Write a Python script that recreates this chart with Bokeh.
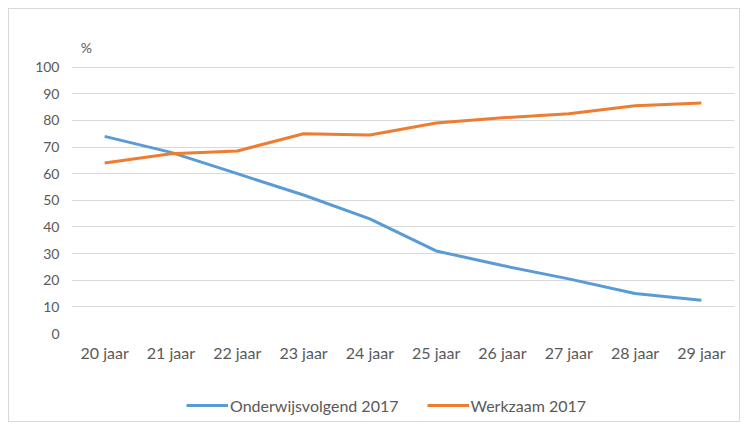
from bokeh.plotting import figure
from bokeh.models import (Legend, LegendItem, FixedTicker, ColumnDataSource,
                          Range1d)
from bokeh.core.properties import value
from bokeh.layouts import column
from bokeh.embed import file_html
from bokeh.resources import INLINE

categories = ["20 jaar", "21 jaar", "22 jaar", "23 jaar", "24 jaar",
              "25 jaar", "26 jaar", "27 jaar", "28 jaar", "29 jaar"]
onderwijs = [74, 68, 60, 52, 43, 31, 25.5, 20.5, 15, 12.5]
werkzaam = [64, 67.5, 68.5, 75, 74.5, 79, 81, 82.5, 85.5, 86.5]
y_ticks = [0, 10, 20, 30, 40, 50, 60, 70, 80, 90, 100]
series_names = ["Onderwijsvolgend 2017", "Werkzaam 2017"]
unit_label = "%"

FONT = "Lato"
GRAY = "#595959"
BLUE = "#5B9BD5"
ORANGE = "#ED7D31"

p = figure(x_range=categories, y_range=(0, 110), width=730, height=380,
           output_backend="svg", toolbar_location=None,
           min_border_left=62, min_border_right=5, min_border_top=31,
           min_border_bottom=56)
p.outline_line_color = None
p.background_fill_color = "white"
p.border_fill_color = "white"

src = ColumnDataSource(dict(x=categories, o=onderwijs, w=werkzaam))
p.line("x", "o", source=src, line_color=BLUE, line_width=3)
p.line("x", "w", source=src, line_color=ORANGE, line_width=3)

p.yaxis.ticker = FixedTicker(ticks=y_ticks)
for ax in (p.xaxis[0], p.yaxis[0]):
    ax.axis_line_color = None
    ax.major_tick_line_color = None
    ax.minor_tick_line_color = None
    ax.major_label_text_font = FONT
    ax.major_label_text_font_size = "14px"
    ax.major_label_text_color = GRAY
p.xaxis.major_label_text_font_size = "16px"
p.yaxis.major_label_standoff = 6
p.xaxis.major_label_standoff = 3

p.xgrid.grid_line_color = None
p.ygrid.grid_line_color = "#d9d9d9"
p.ygrid.grid_line_width = 1

p.text(x=[categories[0]], y=[107.5], text=[unit_label], x_offset=-24,
       text_font=value(FONT), text_font_size="14px", text_color=GRAY,
       text_baseline="middle", text_align="left")

# legend strip (proxy lines lie outside the visible range)
p2 = figure(x_range=Range1d(0, 1), y_range=Range1d(0, 1), width=730, height=32,
            output_backend="svg", toolbar_location=None,
            min_border_left=0, min_border_right=0, min_border_top=0,
            min_border_bottom=0)
p2.axis.visible = False
p2.grid.visible = False
p2.outline_line_color = None
p2.border_fill_color = "white"
proxy = ColumnDataSource(dict(x=[5, 6], y=[5, 6]))
d1 = p2.line("x", "y", source=proxy, line_color=BLUE, line_width=3)
d2 = p2.line("x", "y", source=proxy, line_color=ORANGE, line_width=3)

legend = Legend(items=[LegendItem(label=series_names[0], renderers=[d1]),
                       LegendItem(label=series_names[1], renderers=[d2])],
                orientation="horizontal", location=(115, 6),
                border_line_color=None, background_fill_alpha=0,
                label_text_font=FONT, label_text_font_size="16px",
                label_text_color=GRAY, glyph_width=42, label_standoff=2,
                spacing=28, padding=0, margin=0)
p2.add_layout(legend, "center")

layout = column(p, p2, spacing=0)
layout.margin = (8, 0, 0, 8)
layout.styles = {"border": "1px solid #d9d9d9"}

open("out.html", "w").write(file_html(layout, INLINE))
